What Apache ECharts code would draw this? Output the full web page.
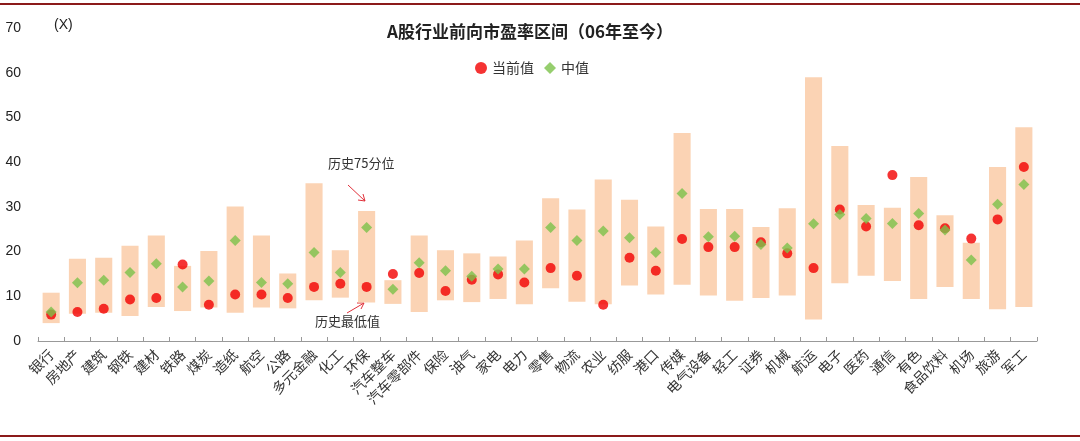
<!DOCTYPE html>
<html><head><meta charset="utf-8">
<script src="https://cdn.jsdelivr.net/npm/echarts@6/dist/echarts.min.js"></script>
<style>html,body{margin:0;padding:0;background:#fff;}#c{width:1080px;height:441px;}</style>
</head><body><div id="c"></div>
<script>
var categories = ['银行','房地产','建筑','钢铁','建材','铁路','煤炭','造纸','航空','公路','多元金融','化工','环保','汽车整车','汽车零部件','保险','油气','家电','电力','零售','物流','农业','纺服','港口','传媒','电气设备','轻工','证券','机械','航运','电子','医药','通信','有色','食品饮料','机场','旅游','军工'];
var histLow  = [4.0,6.1,6.3,5.6,7.6,6.7,7.5,6.3,7.5,7.3,9.1,9.7,8.6,8.3,6.5,9.1,8.7,9.4,8.2,11.8,8.8,8.2,12.4,10.4,12.6,10.2,9.0,9.6,10.2,4.8,12.9,14.6,13.4,9.4,12.1,9.4,7.1,7.6];
var hist75   = [10.8,18.4,18.6,21.3,23.6,16.8,20.1,30.1,23.6,15.1,35.3,20.3,29.1,13.6,23.6,20.3,19.6,18.9,22.5,31.9,29.4,36.1,31.6,25.6,46.5,29.5,29.5,25.5,29.7,59.0,43.6,30.4,29.8,36.7,28.1,22.0,38.9,47.8];
var current  = [5.9,6.5,7.2,9.3,9.6,17.1,8.1,10.4,10.4,9.6,12.1,12.8,12.1,15.0,15.2,11.2,13.7,14.9,13.1,16.3,14.6,8.1,18.6,15.7,22.8,21.0,21.0,22.1,19.6,16.3,29.4,25.6,37.1,25.9,25.2,22.9,27.2,38.9];
var median   = [6.5,13.0,13.6,15.3,17.3,12.1,13.4,22.5,13.1,12.8,19.8,15.3,25.4,11.6,17.5,15.7,14.5,16.1,16.1,25.4,22.5,24.6,23.1,19.8,33.0,23.3,23.4,21.6,20.8,26.2,28.3,27.4,26.3,28.5,24.8,18.1,30.6,35.0];
var yTicks = [0,10,20,30,40,50,60,70];

var range = hist75.map(function(v,i){return +(v-histLow[i]).toFixed(2);});
var chart = echarts.init(document.getElementById('c'));
var cjk = '"Noto Sans CJK SC", sans-serif';
chart.setOption({
  animation:false,
  title:{text:'A股行业前向市盈率区间（06年至今）',left:525,top:18,textAlign:'center',
    textStyle:{fontSize:17,fontWeight:'bold',color:'#222',fontFamily:cjk}},
  legend:{data:['当前值','中值'],left:470,top:56,itemGap:10,itemWidth:12,itemHeight:12,
    textStyle:{fontSize:14,color:'#333',fontFamily:cjk}},
  grid:{left:38,right:43,top:28,bottom:100,containLabel:false},
  xAxis:{type:'category',data:categories,
    axisLine:{lineStyle:{color:'#999'}},
    axisTick:{show:true,inside:true,length:4,alignWithLabel:false,lineStyle:{color:'#999'}},
    axisLabel:{rotate:45,interval:0,fontSize:14,color:'#333',margin:11,fontFamily:cjk}},
  yAxis:{type:'value',min:0,max:70,interval:10,
    axisLine:{show:false},axisTick:{show:false},splitLine:{show:false},
    axisLabel:{fontSize:14,color:'#222',margin:17,fontFamily:'Arial, "Liberation Sans", sans-serif',
      formatter:function(v){return yTicks.indexOf(v)>=0?String(v):'';}}},
  graphic:[
    {type:'text',left:54,top:18,style:{text:'(X)',fontSize:14,fill:'#222',fontFamily:'Arial, "Liberation Sans", sans-serif'}},
    {type:'text',left:328,top:157,style:{text:'历史75分位',fontSize:13,fill:'#333',fontFamily:cjk}},
    {type:'text',left:315,top:315,style:{text:'历史最低值',fontSize:13,fill:'#333',fontFamily:cjk}},
    {type:'line',shape:{x1:348,y1:185,x2:365,y2:201},style:{stroke:'#e0303a',lineWidth:1}},
    {type:'polyline',shape:{points:[[358,200],[365,201],[363,194]]},style:{stroke:'#e0303a',lineWidth:1,fill:null}},
    {type:'line',shape:{x1:347,y1:313,x2:364,y2:303},style:{stroke:'#e0303a',lineWidth:1}},
    {type:'polyline',shape:{points:[[357,303],[364,303],[361,309]]},style:{stroke:'#e0303a',lineWidth:1,fill:null}},
    {type:'rect',shape:{x:0,y:3,width:1080,height:2},style:{fill:'#8b1a1a'}},
    {type:'rect',shape:{x:0,y:435,width:1080,height:2},style:{fill:'#8b1a1a'}}
  ],
  series:[
    {name:'base',type:'bar',stack:'r',data:histLow,barWidth:'65%',itemStyle:{color:'rgba(0,0,0,0)'},silent:true},
    {name:'range',type:'bar',stack:'r',data:range,barWidth:'65%',itemStyle:{color:'#FBD3B4'},silent:true},
    {name:'当前值',type:'scatter',data:current,symbol:'circle',symbolSize:10,itemStyle:{color:'#F20000'},z:3},
    {name:'中值',type:'scatter',data:median,symbol:'diamond',symbolSize:11,itemStyle:{color:'#7CC24A'},z:4}
  ]
});
</script></body></html>
